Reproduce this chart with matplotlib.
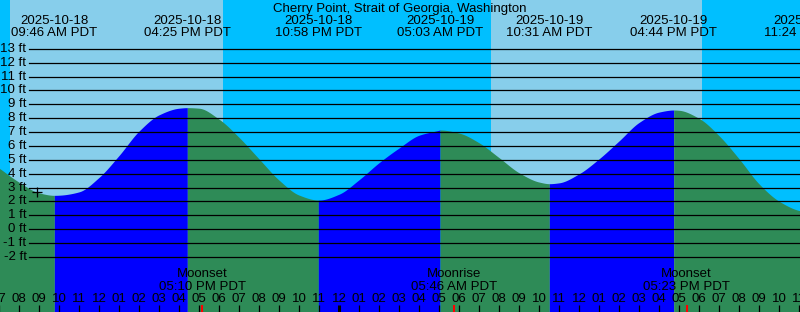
import datetime as dt
import numpy as np
import matplotlib
matplotlib.use("Agg")
import matplotlib.pyplot as plt
from matplotlib.transforms import blended_transform_factory

# ---------------- data ----------------
title = "Cherry Point, Strait of Georgia, Washington"
tz_name = "PDT"

hourly_start = "2025-10-18 07:00"
hourly_heights = [4.41, 3.39, 2.62, 2.45, 2.69, 3.73, 5.31, 7.07, 8.24, 8.72,
                  8.72, 7.93, 6.62, 5.07, 3.54, 2.46, 2.10, 2.52, 3.56, 4.79,
                  5.85, 6.77, 7.13, 6.93, 6.23, 5.16, 4.07, 3.40, 3.34, 3.99,
                  5.07, 6.36, 7.69, 8.44, 8.57, 7.99, 6.74, 5.08, 3.27, 2.02,
                  1.35]

extreme_times = ["2025-10-18 09:46", "2025-10-18 16:25", "2025-10-18 22:58",
                 "2025-10-19 05:03", "2025-10-19 10:31", "2025-10-19 16:44",
                 "2025-10-19 23:24"]
extreme_heights = [2.44, 8.76, 2.10, 7.15, 3.28, 8.59, 1.25]

sunrise_times = ["2025-10-18 07:33", "2025-10-19 07:36"]
sunset_times = ["2025-10-18 18:12", "2025-10-19 18:09"]

moon_events = ["Moonset", "Moonrise", "Moonset"]
moon_times = ["2025-10-18 17:10", "2025-10-19 05:46", "2025-10-19 17:23"]

now_time = "2025-10-18 08:55"
now_height = 2.66

level_ticks = list(range(-2, 14))
view_start = "2025-10-18 07:03"
view_hours = 40

# ---------------- helpers ----------------
base = dt.datetime(2025, 10, 18, 0, 0)


def parse(s):
    return dt.datetime.strptime(s, "%Y-%m-%d %H:%M")


def hrs(s):
    return (parse(s) - base).total_seconds() / 3600.0


def pchip_path(x, y, per=24):
    """Smooth shape-preserving path through the given points (for drawing)."""
    x = np.asarray(x, float)
    y = np.asarray(y, float)
    h = np.diff(x)
    d = np.diff(y) / h
    m = np.zeros_like(y)
    for k in range(1, len(x) - 1):
        if d[k - 1] * d[k] > 0:
            w1 = 2 * h[k] + h[k - 1]
            w2 = h[k] + 2 * h[k - 1]
            m[k] = (w1 + w2) / (w1 / d[k - 1] + w2 / d[k])
    m[0] = d[0]
    m[-1] = d[-1]
    xs, ys = [], []
    for k in range(len(x) - 1):
        s = np.linspace(0, 1, per, endpoint=False)
        hk = h[k]
        h00 = 2 * s**3 - 3 * s**2 + 1
        h10 = s**3 - 2 * s**2 + s
        h01 = -2 * s**3 + 3 * s**2
        h11 = s**3 - s**2
        xs.append(x[k] + s * hk)
        ys.append(h00 * y[k] + h10 * hk * m[k] + h01 * y[k + 1] + h11 * hk * m[k + 1])
    xs.append([x[-1]])
    ys.append([y[-1]])
    return np.concatenate(xs), np.concatenate(ys)


W, H = 800, 312
fig = plt.figure(figsize=(W / 100, H / 100), dpi=100)
ax = fig.add_axes([0, 0, 1, 1])
ax.axis("off")

x0 = hrs(view_start)
ax.set_xlim(x0, x0 + view_hours)
# y mapping: pixel = 229.2 - 13.875 * ft
ft_top = 229.2 / 13.875
ft_bot = (229.2 - H) / 13.875
ax.set_ylim(ft_bot, ft_top)

tr_xdata_ypix = blended_transform_factory(ax.transData, fig.transFigure)
tr_xpix_ydata = blended_transform_factory(fig.transFigure, ax.transData)


def ypix(p):
    return 1 - p / H


FONT = ["Liberation Sans", "DejaVu Sans"]
FS = 9.5

SKY_DAY = "#87CEEB"
SKY_NIGHT = "#00BFFF"
RISE = "#0000FF"
FALL = "#2E8B57"

# sky
ax.axvspan(x0 - 1, x0 + view_hours + 1, color=SKY_NIGHT, zorder=0, lw=0)
for sr, ss in zip(sunrise_times, sunset_times):
    ax.axvspan(hrs(sr), hrs(ss), color=SKY_DAY, zorder=0.5, lw=0)

# tide series
h0 = hrs(hourly_start)
t_hour = [h0 + i for i in range(len(hourly_heights))]
t_ext = [hrs(s) for s in extreme_times]
t_all = np.array(t_hour + t_ext)
h_all = np.array(hourly_heights + extreme_heights)
order = np.argsort(t_all)
t_all = t_all[order]
h_all = h_all[order]

tc, hc = pchip_path(t_all, h_all)

bounds = sorted(set([t_all[0]] + t_ext + [t_all[-1]]))
for a, b in zip(bounds[:-1], bounds[1:]):
    m = (tc >= a - 1e-9) & (tc <= b + 1e-9)
    ts, hs = tc[m], hc[m]
    if len(ts) < 2:
        continue
    col = RISE if hs[-1] > hs[0] else FALL
    ax.fill_between(ts, hs, ft_bot - 1, color=col, lw=0, zorder=1)

# level lines and labels
for lv in level_ticks:
    ax.axhline(lv, xmin=29 / W, xmax=1, color="black", lw=0.9, zorder=2)
    ax.text(26.5 / W, lv, f"{lv} ft", transform=tr_xpix_ydata, ha="right",
            va="center", fontsize=FS, family=FONT, color="black", zorder=3)

# now marker
ax.plot([hrs(now_time)], [now_height], marker="+", color="black",
        markersize=6.5, mew=0.9, zorder=3)

# title
fig.text(0.5, ypix(12), title, ha="center", va="baseline", fontsize=FS,
         family=FONT, color="black")

# extreme labels
for s in extreme_times:
    d = parse(s)
    t = hrs(s)
    ax.text(t, ypix(23.5), d.strftime("%Y-%m-%d"), transform=tr_xdata_ypix,
            ha="center", va="baseline", fontsize=FS, family=FONT, zorder=3)
    ax.text(t, ypix(35.5), d.strftime("%I:%M %p ") + tz_name,
            transform=tr_xdata_ypix, ha="center", va="baseline",
            fontsize=FS, family=FONT, zorder=3)

# moon events
for name, s in zip(moon_events, moon_times):
    d = parse(s)
    t = hrs(s)
    ax.text(t, ypix(277), name, transform=tr_xdata_ypix, ha="center",
            va="baseline", fontsize=FS, family=FONT, zorder=3)
    ax.text(t, ypix(290), d.strftime("%I:%M %p ") + tz_name,
            transform=tr_xdata_ypix, ha="center", va="baseline",
            fontsize=FS, family=FONT, zorder=3)
    ax.plot([t, t], [ypix(305), ypix(312)], transform=tr_xdata_ypix,
            color="red", lw=1.5, zorder=4, solid_capstyle="butt")

# hour ticks and labels
first_hour = int(np.floor(x0))
for hh in range(first_hour, int(np.ceil(x0 + view_hours)) + 1):
    d = base + dt.timedelta(hours=hh)
    ax.text(hh, ypix(302), d.strftime("%I"), transform=tr_xdata_ypix,
            ha="center", va="baseline", fontsize=FS, family=FONT, zorder=3)
    lw = 2.2 if d.hour == 0 else 0.9
    ax.plot([hh, hh], [ypix(305), ypix(312)], transform=tr_xdata_ypix,
            color="black", lw=lw, zorder=3, solid_capstyle="butt")

fig.savefig("out.png", dpi=100)
